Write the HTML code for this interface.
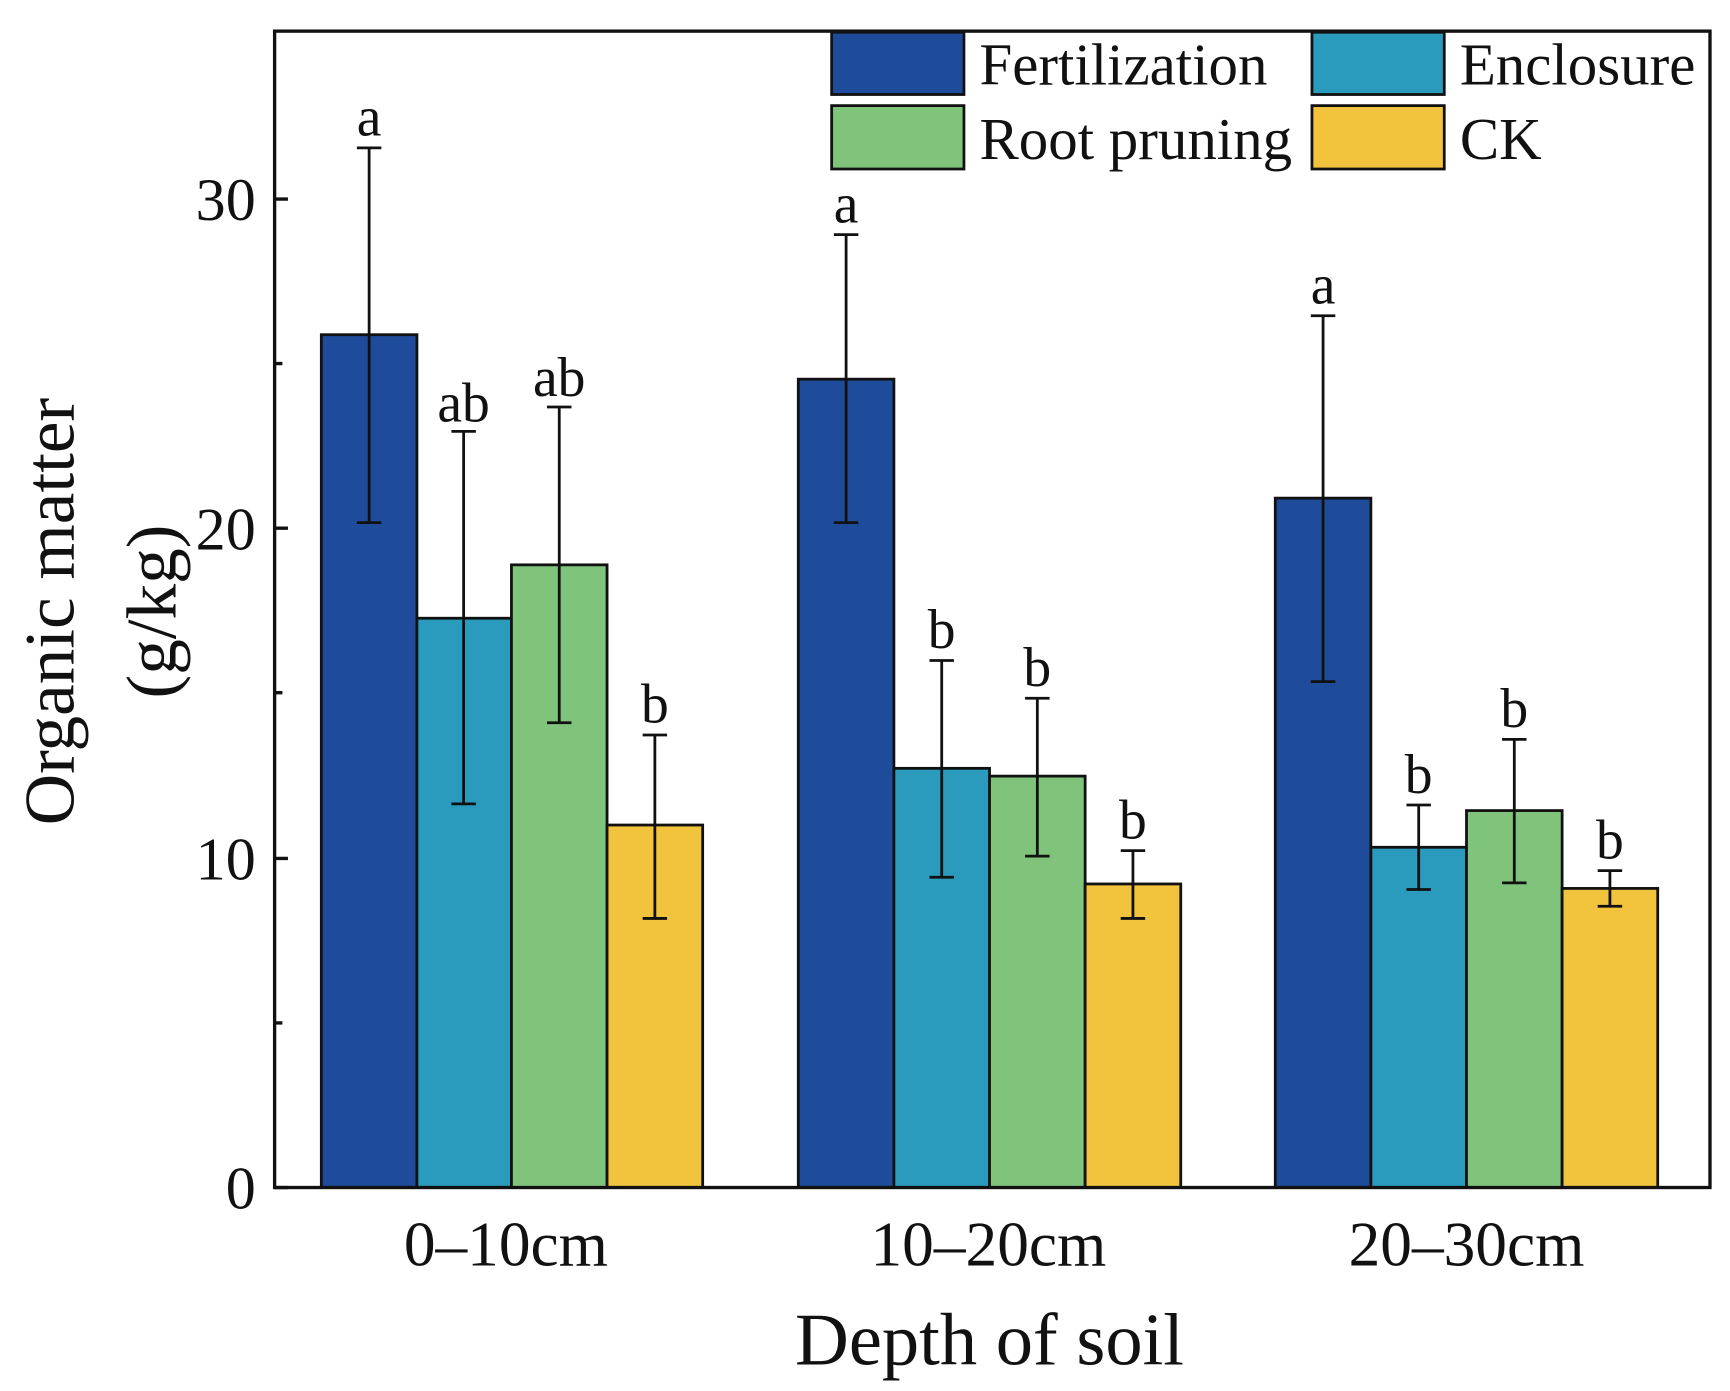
<!DOCTYPE html>
<html><head><style>html,body{margin:0;padding:0;background:#fff}svg{display:block}</style></head>
<body>
<svg width="1730" height="1391" viewBox="0 0 1556 1251" preserveAspectRatio="none" xmlns="http://www.w3.org/2000/svg" font-family="Liberation Serif, serif">
<rect x="0" y="0" width="1556" height="1251" fill="#fff"/>
<g stroke="#111" stroke-width="2.5">
<rect x="289" y="301" width="86" height="767" fill="#1f4b9b"/>
<rect x="375" y="556" width="85" height="512" fill="#2a9bbd"/>
<rect x="460" y="508" width="86" height="560" fill="#80c47c"/>
<rect x="546" y="742" width="86" height="326" fill="#f2c43e"/>
<rect x="718" y="341" width="86" height="727" fill="#1f4b9b"/>
<rect x="804" y="691" width="86" height="377" fill="#2a9bbd"/>
<rect x="890" y="698" width="86" height="370" fill="#80c47c"/>
<rect x="976" y="795" width="86" height="273" fill="#f2c43e"/>
<rect x="1147" y="448" width="86" height="620" fill="#1f4b9b"/>
<rect x="1233" y="762" width="86" height="306" fill="#2a9bbd"/>
<rect x="1319" y="729" width="86" height="339" fill="#80c47c"/>
<rect x="1405" y="799" width="86" height="269" fill="#f2c43e"/>
</g>
<g stroke="#111" stroke-width="2.5" fill="none">
<path d="M332 133V470M321 133H343M321 470H343"/>
<path d="M417 388V723M406 388H428M406 723H428"/>
<path d="M503 366V650M492 366H514M492 650H514"/>
<path d="M589 661V826M578 661H600M578 826H600"/>
<path d="M761 211V470M750 211H772M750 470H772"/>
<path d="M847 594V789M836 594H858M836 789H858"/>
<path d="M933 628V770M922 628H944M922 770H944"/>
<path d="M1019 765V826M1008 765H1030M1008 826H1030"/>
<path d="M1190 284V613M1179 284H1201M1179 613H1201"/>
<path d="M1276 724V800M1265 724H1287M1265 800H1287"/>
<path d="M1362 665V794M1351 665H1373M1351 794H1373"/>
<path d="M1448 783V815M1437 783H1459M1437 815H1459"/>
</g>
<g font-size="50" text-anchor="middle" fill="#111">
<text x="332" y="122">a</text><text x="417" y="379">ab</text><text x="503" y="356">ab</text><text x="589" y="650">b</text>
<text x="761" y="200">a</text><text x="847" y="583">b</text><text x="933" y="617">b</text><text x="1019" y="754">b</text>
<text x="1190" y="273">a</text><text x="1276" y="713">b</text><text x="1362" y="654">b</text><text x="1448" y="772">b</text>
</g>
<rect x="247" y="28" width="1291" height="1040" fill="none" stroke="#111" stroke-width="3"/>
<g stroke="#111" stroke-width="3">
<path d="M247 1068H259M247 772H259M247 475H259M247 179H259"/>
<path d="M247 920H254M247 623H254M247 327H254"/>
</g>
<g font-size="54" text-anchor="end" fill="#111">
<text x="230" y="1087">0</text><text x="230" y="791">10</text><text x="230" y="494">20</text><text x="230" y="198">30</text>
</g>
<g font-size="57" text-anchor="middle" fill="#111">
<text x="455" y="1138">0–10cm</text><text x="889" y="1138">10–20cm</text><text x="1319" y="1138">20–30cm</text>
<text x="890" y="1227" font-size="67">Depth of soil</text>
</g>
<g font-size="64" text-anchor="middle" fill="#111">
<text transform="translate(66,550) rotate(-90)">Organic matter</text>
<text transform="translate(158,550) rotate(-90)">(g/kg)</text>
</g>
<g stroke="#111" stroke-width="2.5">
<rect x="748" y="29" width="119" height="56" fill="#1f4b9b"/>
<rect x="1180" y="29" width="119" height="56" fill="#2a9bbd"/>
<rect x="748" y="95" width="119" height="57" fill="#80c47c"/>
<rect x="1180" y="95" width="119" height="57" fill="#f2c43e"/>
</g>
<g font-size="53" fill="#111">
<text x="881" y="76">Fertilization</text><text x="1313" y="76">Enclosure</text>
<text x="881" y="143">Root pruning</text><text x="1313" y="143">CK</text>
</g>
</svg>
</body></html>
